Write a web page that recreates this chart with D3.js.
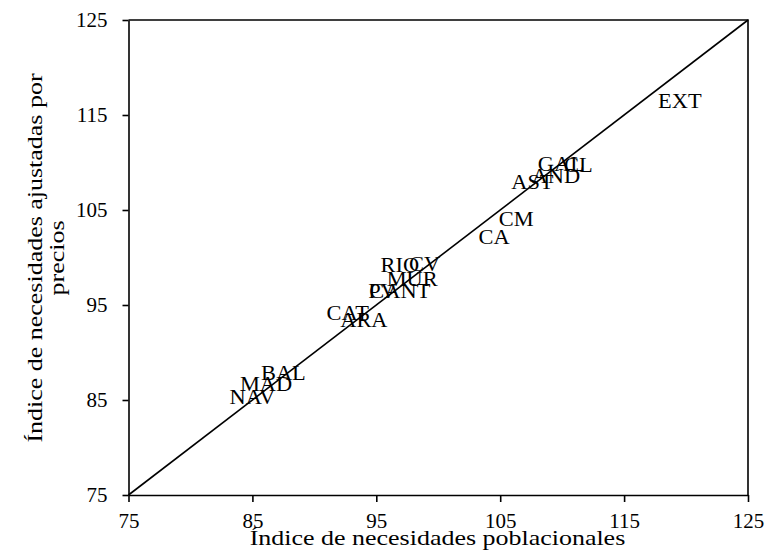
<!DOCTYPE html>
<html>
<head>
<meta charset="utf-8">
<script src="https://cdn.jsdelivr.net/npm/d3@7"></script>
<style>
  body { margin: 0; background: #fff; }
  svg { display: block; }
  text { font-family: "Liberation Serif", "Times New Roman", serif; fill: #000; }
</style>
</head>
<body>
<svg id="chart" width="766" height="550"></svg>
<script>
// Data
const regions = ["EXT","CM","CA","AST","AND","GAL","CL","RIO","CV","MUR","PV","CANT","CAT","ARA","BAL","MAD","NAV"];
const poblacional = [119.5,106.3,104.5,107.6,109.5,109.9,111.3,96.9,98.9,97.9,95.5,96.9,92.7,94.0,87.5,86.1,85.0];
const ajustado    = [116.5,104.1,102.2,107.9,108.6,109.8,109.7,99.2,99.3,97.7,96.5,96.5,94.2,93.4,87.8,86.7,85.3];
const tickValues = [75,85,95,105,115,125];
const diagonal = [75,125];
const xTitle = "Índice de necesidades poblacionales";
const yTitleLines = ["Índice de necesidades ajustadas por", "precios"];

const svg = d3.select("#chart");
const mLeft = 128.5, mRight = 748, mTop = 20, mBottom = 495;

const x = d3.scaleLinear().domain([75,125]).range([mLeft, mRight]);
const y = d3.scaleLinear().domain([75,125]).range([mBottom, mTop]);

// widen glyphs a bit (reference uses a wide Garamond-like face)
function stretch(sel, factor) {
  sel.each(function() {
    const len = this.getComputedTextLength();
    d3.select(this).attr("textLength", len * factor).attr("lengthAdjust", "spacingAndGlyphs");
  });
}

// box top & right
svg.append("path")
  .attr("d", `M${x(75)},${y(125)}H${x(125)}V${y(75)}`)
  .attr("fill","none").attr("stroke","#000").attr("stroke-width",1.6);

// axes
const gx = svg.append("g").attr("transform", `translate(0,${mBottom})`)
  .call(d3.axisBottom(x).tickValues(tickValues).tickSize(7).tickSizeOuter(0).tickPadding(12).tickFormat(d3.format("d")));
const gy = svg.append("g").attr("transform", `translate(${mLeft},0)`)
  .call(d3.axisLeft(y).tickValues(tickValues).tickSize(6).tickSizeOuter(0).tickPadding(15).tickFormat(d3.format("d")));
[gx, gy].forEach(g => {
  g.select(".domain").attr("stroke","#000").attr("stroke-width",1.6);
  g.selectAll(".tick line").attr("stroke","#000").attr("stroke-width",1.6);
  g.selectAll(".tick text").attr("font-family","Liberation Serif, serif").attr("font-size",20).attr("fill","#000");
  stretch(g.selectAll(".tick text"), 1.05);
});

// diagonal line
svg.append("line")
  .attr("x1", x(diagonal[0])).attr("y1", y(diagonal[0]))
  .attr("x2", x(diagonal[1])).attr("y2", y(diagonal[1]))
  .attr("stroke","#000").attr("stroke-width",1.6);

// labels
const data = regions.map((r,i) => ({r, px: poblacional[i], py: ajustado[i]}));
const labels = svg.append("g").selectAll("text").data(data).join("text")
  .attr("x", d => x(d.px)).attr("y", d => y(d.py))
  .attr("text-anchor","middle")
  .attr("dy","0.35em")
  .attr("font-size",20)
  .text(d => d.r);
stretch(labels, 1.12);

// x title
const xt = svg.append("text")
  .attr("x", 437.5).attr("y", 545)
  .attr("text-anchor","middle")
  .attr("font-size",22)
  .text(xTitle);
stretch(xt, 1.18);

// y title
const yt = svg.append("text")
  .attr("transform","translate(0,258) rotate(-90)")
  .attr("text-anchor","middle")
  .attr("font-size",22);
yTitleLines.forEach((t,i) => {
  const ts = yt.append("tspan").attr("x",0).attr("y", 42 + i*22).text(t);
  stretch(ts, 1.18);
});
</script>
</body>
</html>
